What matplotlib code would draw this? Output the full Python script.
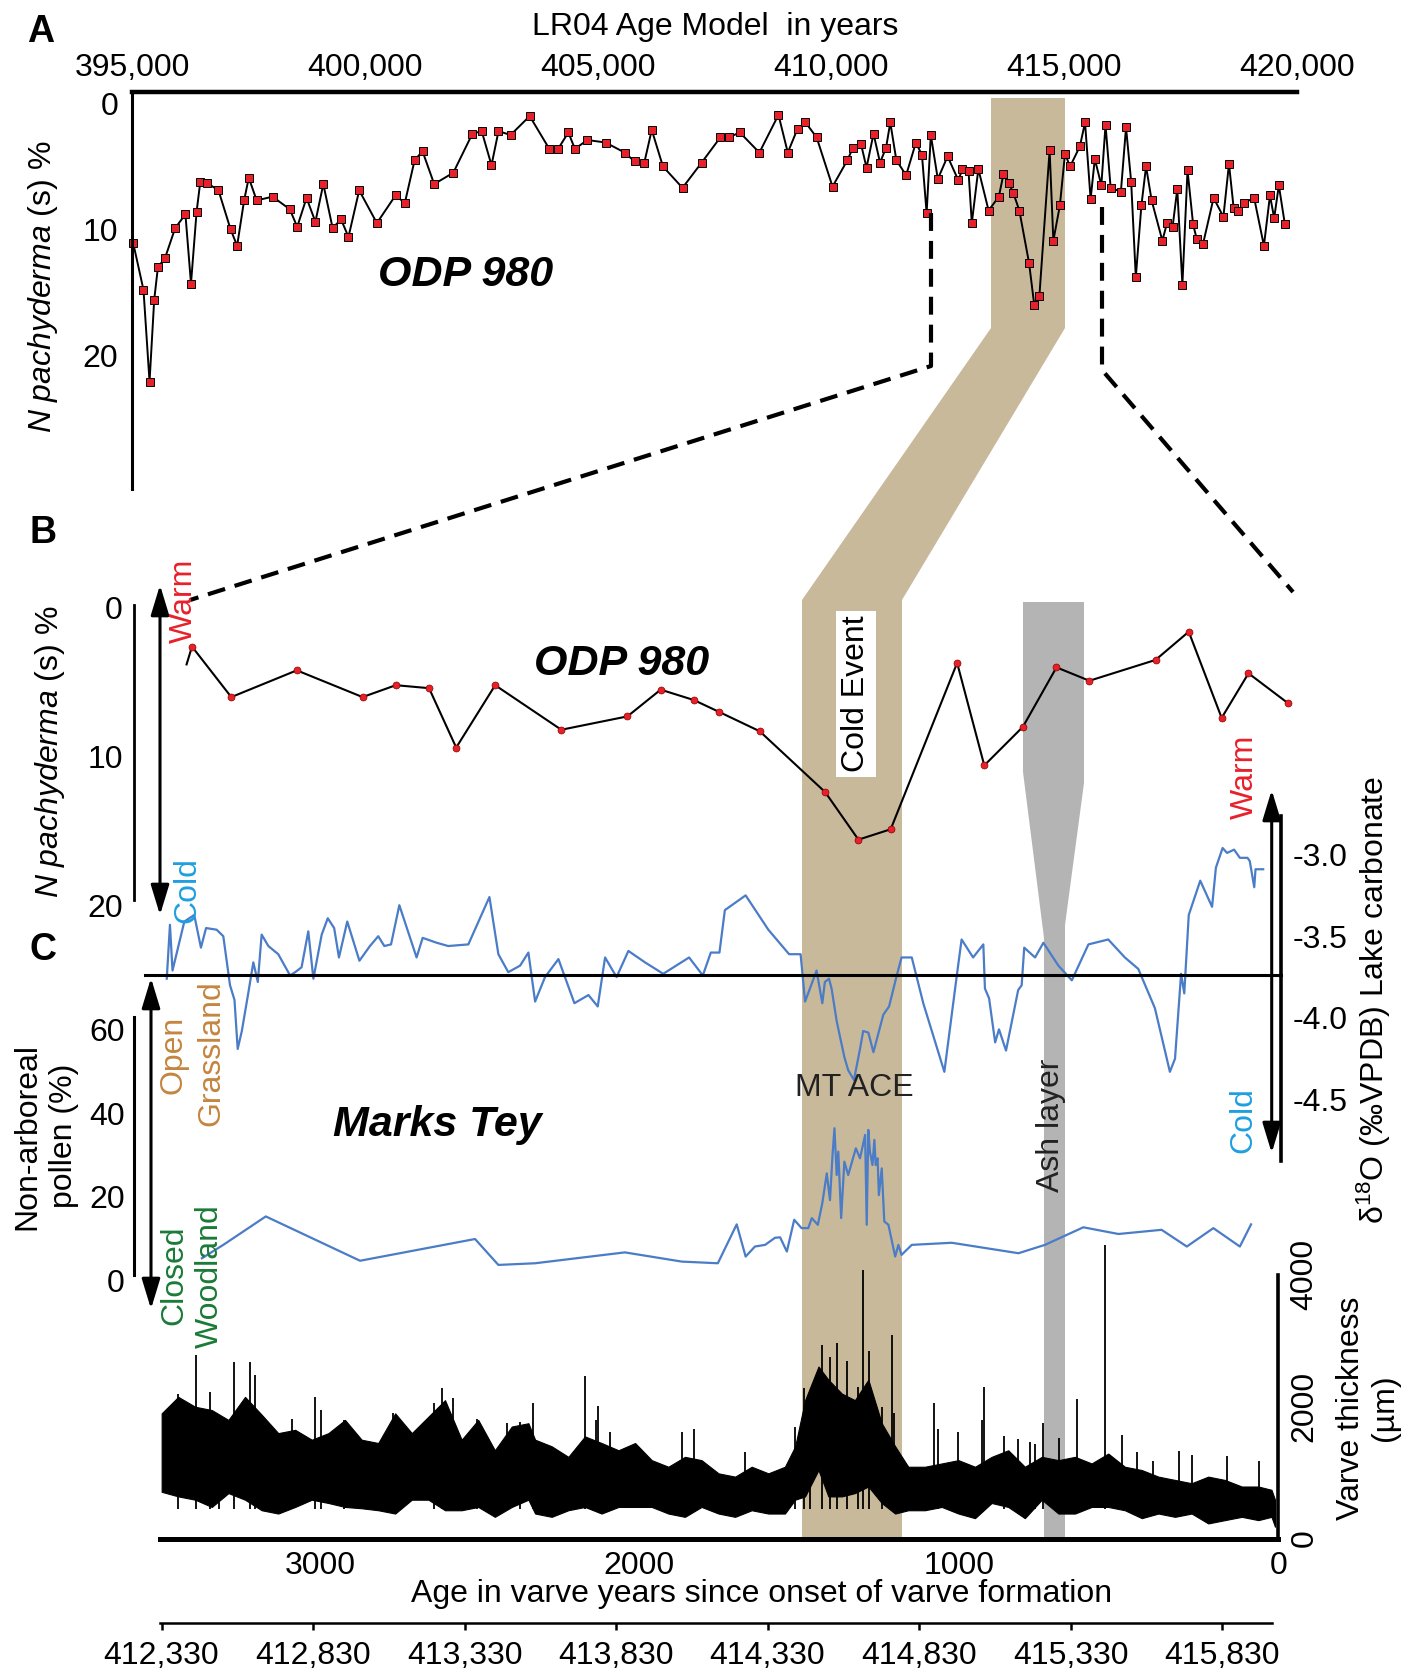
import matplotlib.pyplot as plt
from matplotlib.patches import Polygon, FancyArrowPatch
from matplotlib.lines import Line2D
from matplotlib.ticker import FuncFormatter

plt.rcParams['font.family'] = ['Liberation Sans', 'DejaVu Sans']
plt.rcParams['mathtext.fontset'] = 'custom'
plt.rcParams['mathtext.rm'] = 'Liberation Sans'
plt.rcParams['mathtext.it'] = 'Liberation Sans:italic'
plt.rcParams['mathtext.bf'] = 'Liberation Sans:bold'

# ---- panel A: ODP 980, N. pachyderma (s) % on LR04 ages ----
ageA = [395020, 395240, 395370, 395470, 395550, 395700, 395920, 396140, 396260, 396380,
        396460, 396600, 396850, 397110, 397250, 397400, 397500, 397670, 398010, 398380,
        398540, 398740, 398930, 399100, 399300, 399480, 399640, 399870, 400250, 400650,
        400850, 401060, 401230, 401480, 401890, 402300, 402500, 402710, 402860, 403120,
        403530, 403950, 404140, 404360, 404500, 404770, 405160, 405570, 405780, 405990,
        406150, 406390, 406810, 407220, 407620, 407800, 408040, 408460, 408870, 409070,
        409280, 409450, 409690, 410030, 410350, 410470, 410640, 410760, 410910, 411050,
        411180, 411270, 411400, 411610, 411820, 411950, 412050, 412140, 412290, 412500,
        412730, 412820, 412950, 413020, 413160, 413380, 413600, 413700, 413810, 413910,
        414040, 414250, 414360, 414470, 414690, 414770, 414910, 415020, 415130, 415340,
        415450, 415570, 415660, 415800, 415890, 416000, 416220, 416330, 416440, 416540,
        416660, 416760, 416880, 417110, 417210, 417330, 417430, 417540, 417650, 417770,
        417850, 417980, 418210, 418420, 418540, 418640, 418740, 418860, 419080, 419290,
        419420, 419510, 419610, 419740]
npsA = [11.1, 14.8, 22.1, 15.6, 13.0, 12.3, 9.9, 8.8, 14.3, 8.6,
        6.2, 6.3, 6.9, 10.0, 11.3, 7.7, 5.9, 7.7, 7.4, 8.4,
        9.8, 7.5, 9.4, 6.4, 9.9, 9.2, 10.6, 6.9, 9.5, 7.3,
        7.9, 4.5, 3.8, 6.4, 5.5, 2.4, 2.2, 4.9, 2.2, 2.5,
        1.0, 3.6, 3.6, 2.3, 3.6, 2.9, 3.1, 3.9, 4.6, 4.7,
        2.1, 5.0, 6.7, 4.7, 2.7, 2.7, 2.3, 3.9, 0.9, 3.9,
        2.0, 1.5, 2.7, 6.6, 4.5, 3.5, 3.2, 5.1, 2.4, 4.7,
        3.5, 1.5, 4.5, 5.7, 3.1, 4.1, 8.7, 2.5, 6.0, 4.2,
        6.1, 5.2, 5.4, 9.5, 5.2, 8.5, 7.4, 5.6, 6.3, 7.1,
        8.5, 12.7, 16.0, 15.3, 3.7, 10.9, 8.1, 4.0, 5.0, 3.4,
        1.5, 7.6, 4.4, 6.5, 1.7, 6.7, 7.0, 1.9, 6.2, 13.8,
        8.1, 5.0, 7.7, 10.9, 9.5, 9.8, 6.8, 14.4, 5.3, 9.6,
        10.8, 11.2, 7.5, 9.0, 4.8, 8.3, 8.5, 7.9, 7.5, 11.3,
        7.3, 9.1, 6.5, 9.6]
ticksA = [395000, 400000, 405000, 410000, 415000, 420000]

# ---- panel B: ODP 980 zoom (plotted on varve-year scale) ----
vB = [3417, 3400, 3277, 3072, 2866, 2762, 2658, 2573, 2451, 2244, 2037, 1933, 1829, 1750,
      1623, 1418, 1314, 1213, 1005, 920, 799, 694, 591, 384, 280, 177, 93, -30]
npsB = [3.8, 2.6, 6.0, 4.2, 6.0, 5.2, 5.4, 9.4, 5.2, 8.2, 7.3, 5.5, 6.2, 7.0,
        8.3, 12.4, 15.6, 14.9, 3.7, 10.6, 8.0, 4.0, 4.9, 3.5, 1.6, 7.4, 4.4, 6.4]

# ---- panel C: Marks Tey d18O lake carbonate ----
vD = [3479, 3469, 3461, 3424, 3393, 3372, 3356, 3323, 3302, 3281, 3267, 3257, 3244, 3224,
      3208, 3194, 3182, 3161, 3130, 3093, 3077, 3057, 3036, 3020, 2994, 2975, 2955, 2940,
      2914, 2876, 2843, 2817, 2798, 2777, 2751, 2697, 2678, 2634, 2598, 2535, 2469, 2441,
      2410, 2373, 2347, 2326, 2295, 2253, 2203, 2159, 2130, 2107, 2071, 2034, 1982, 1925,
      1844, 1801, 1776, 1749, 1732, 1667, 1596, 1531, 1495, 1481, 1460, 1445, 1427, 1419,
      1406, 1398, 1382, 1358, 1346, 1328, 1309, 1299, 1283, 1267, 1236, 1218, 1194, 1179,
      1147, 1111, 1045, 1006, 991, 955, 923, 918, 905, 886, 874, 852, 814, 803, 795, 761,
      735, 688, 646, 594, 532, 480, 438, 386, 339, 323, 304, 294, 280, 244, 207, 195, 174,
      160, 138, 120, 96, 89, 75, 71, 47]
d18O = [-3.76, -3.43, -3.71, -3.41, -3.37, -3.57, -3.45, -3.46, -3.50, -3.80, -3.89, -4.19, -4.08, -3.85,
        -3.66, -3.78, -3.49, -3.56, -3.61, -3.74, -3.72, -3.69, -3.47, -3.76, -3.49, -3.39, -3.45, -3.63,
        -3.41, -3.65, -3.56, -3.50, -3.56, -3.55, -3.31, -3.63, -3.51, -3.54, -3.56, -3.55, -3.26, -3.61,
        -3.72, -3.68, -3.60, -3.90, -3.75, -3.64, -3.91, -3.86, -3.93, -3.63, -3.75, -3.59, -3.66, -3.73,
        -3.63, -3.74, -3.60, -3.60, -3.34, -3.25, -3.46, -3.61, -3.61, -3.90, -3.79, -3.71, -3.91, -3.78,
        -3.76, -3.82, -4.02, -4.24, -4.32, -4.38, -4.19, -4.08, -4.09, -4.21, -3.98, -3.93, -3.74, -3.63,
        -3.63, -3.91, -4.33, -3.74, -3.52, -3.63, -3.55, -3.82, -3.88, -4.15, -4.07, -4.20, -3.83, -3.80, -3.57, -3.63,
        -3.54, -3.68, -3.77, -3.55, -3.52, -3.63, -3.70, -3.94, -4.33, -4.25, -3.73, -3.85, -3.37, -3.16, -3.32, -3.08, -2.96,
        -2.99, -2.97, -3.02, -3.02, -3.04, -3.20, -3.09, -3.09]

# ---- non-arboreal pollen ----
vP = [3369, 3302, 3169, 2874, 2514, 2441, 2326, 2045, 1867, 1754, 1695, 1667, 1638, 1606,
      1575, 1559, 1538, 1515, 1492, 1471, 1460, 1441, 1427, 1413, 1403, 1395, 1389, 1382,
      1377, 1368, 1358, 1346, 1322, 1309, 1293, 1288, 1283, 1278, 1270, 1264, 1260, 1254,
      1250, 1241, 1233, 1220, 1199, 1189, 1179, 1147, 1022, 813, 730, 610, 500, 365, 286,
      203, 120, 85]
nap = [5.3, 8.5, 15.3, 4.7, 9.9, 3.7, 4.1, 6.7, 4.5, 4.1, 13.4, 5.7, 8.1, 8.5,
       10.2, 10.3, 6.9, 14.5, 12.5, 12.5, 14.9, 13.3, 18.5, 25.6, 19.2, 30.0, 36.4, 25.2,
       30.8, 14.9, 28.4, 25.2, 31.6, 29.2, 34.8, 13.3, 36.0, 30.8, 27.6, 33.6, 27.6, 29.2,
       20.4, 26.8, 14.1, 13.3, 5.7, 8.5, 6.1, 8.5, 9.0, 6.5, 8.5, 12.7, 11.1, 12.1, 8.1,
       12.5, 8.1, 13.4]

# ---- varve thickness: envelope of the dense band + isolated spikes ----
vV = [3495, 3443, 3390, 3338, 3286, 3234, 3182, 3130, 3077, 3025, 2973, 2921, 2869, 2817,
      2764, 2712, 2660, 2608, 2556, 2504, 2452, 2399, 2347, 2326, 2274, 2222, 2170, 2118,
      2065, 2013, 1961, 1909, 1857, 1805, 1752, 1700, 1648, 1596, 1544, 1512, 1481, 1439,
      1408, 1366, 1325, 1283, 1241, 1199, 1158, 1106, 1053, 1001, 949, 897, 845, 793, 740,
      688, 636, 584, 532, 480, 427, 375, 323, 271, 219, 167, 114, 62, 21, 10]
varveTop = [1900, 2150, 2000, 1950, 1800, 2150, 1880, 1600, 1650, 1500, 1600, 1800, 1500, 1450,
            1900, 1600, 1850, 2100, 1500, 1800, 1340, 1700, 1750, 1500, 1400, 1240, 1550, 1450,
            1340, 1450, 1190, 1090, 1240, 1190, 990, 940, 1090, 990, 1090, 1400, 2100, 2610,
            2410, 2200, 2100, 2410, 1750, 1400, 1090, 1090, 1140, 1190, 1090, 1240, 1340, 1090, 1240,
            1190, 1240, 1140, 1290, 1090, 1040, 940, 890, 840, 940, 890, 790, 790, 740, 590]
varveBot = [710, 640, 590, 480, 690, 590, 430, 380, 480, 590, 540, 480, 460, 430,
            380, 590, 590, 430, 430, 480, 330, 480, 590, 380, 330, 430, 480, 380,
            480, 480, 480, 380, 330, 480, 380, 330, 430, 380, 380, 590, 640, 1040,
            640, 640, 690, 790, 540, 380, 430, 430, 480, 380, 310, 540, 480, 310, 590,
            380, 380, 480, 480, 430, 310, 380, 330, 380, 230, 280, 330, 280, 330, 180]
spikeV = [3443, 3387, 3343, 3317, 3270, 3218, 3203, 3088, 3015, 2997, 2923, 2770, 2644, 2618,
          2582, 2509, 2415, 2373, 2334, 2170, 2135, 2128, 2091, 1867, 1828, 1669, 1512, 1483,
          1465, 1427, 1403, 1382, 1349, 1316, 1301, 1280, 1241, 1210, 1202, 1076, 1066, 1001,
          926, 920, 858, 813, 777, 761, 735, 685, 631, 542, 488, 442, 393, 312, 271, 159, 59]
spikeH = [2200, 2790, 2230, 1880, 2680, 2680, 2480, 1820, 2150, 1950, 1800, 1900, 2050, 2280,
          2130, 1820, 1750, 1770, 2050, 2470, 1800, 2010, 1620, 1610, 1670, 1320, 1700, 2280,
          2190, 2940, 2750, 2970, 2700, 2300, 4080, 2840, 2000, 3090, 1900, 2060, 1670, 1610,
          1800, 2300, 1550, 1510, 1470, 1440, 1760, 1530, 2120, 4450, 1570, 1320, 1180, 1330, 1270, 1260, 1180]

lr04_ticks = [412330, 412830, 413330, 413830, 414330, 414830, 415330, 415830]

RED = '#e8202a'
SKY = '#1e9fe0'
BLUE = '#4a7cc7'
TAN = '#c9b99b'
GREY = '#b4b4b4'
ORANGE = '#c4853f'
GREEN = '#1a7a36'
FS = 23

W, H = 1416, 1673
fig = plt.figure(figsize=(W / 100, H / 100), dpi=100)


def fx(x):
    return x / W


def fy(y):
    return 1 - y / H


def add_ax(x0, y0, x1, y1):
    ax = fig.add_axes([x0 / W, 1 - y1 / H, (x1 - x0) / W, (y1 - y0) / H])
    ax.patch.set_visible(False)
    for s in ax.spines.values():
        s.set_visible(False)
    ax.set_xticks([])
    ax.set_yticks([])
    ax.tick_params(length=0, labelsize=FS)
    return ax


comma = FuncFormatter(lambda x, p: f'{int(round(x)):,}')

# shaded bands behind everything (figure pixel coords)
tan_band = [(991, 98), (1065, 98), (1065, 328), (902, 600), (902, 1538),
            (802, 1538), (802, 600), (991, 328)]
ash_band = [(1023, 602), (1084, 602), (1084, 783), (1065, 925), (1065, 1538),
            (1044, 1538), (1044, 938), (1023, 772)]
for pts, col in [(tan_band, TAN), (ash_band, GREY)]:
    fig.add_artist(Polygon([(fx(x), fy(y)) for x, y in pts], closed=True, fc=col, ec='none',
                           transform=fig.transFigure, zorder=-1))

# ---------------- Panel A ----------------
axA = add_ax(132.3, 92.3, 1297, 488.7)
axA.set_xlim(395000, 420000)
axA.set_ylim(30.6, -0.89)
axA.spines['top'].set_visible(True)
axA.spines['top'].set_linewidth(3.2)
axA.spines['left'].set_visible(True)
axA.spines['left'].set_linewidth(2.2)
axA.xaxis.tick_top()
axA.set_xticks(ticksA)
axA.xaxis.set_major_formatter(comma)
axA.tick_params(axis='x', length=0, pad=7, labelsize=FS)
axA.set_yticks([0, 10, 20])
axA.tick_params(axis='y', length=0, pad=10, labelsize=FS)
axA.plot(ageA, npsA, color='k', lw=1.4, marker='s', ms=6.2, mfc=RED, mec='k', mew=0.7,
         clip_on=False)

# ---------------- Panel B ----------------
axB = add_ax(160.05, 590, 1278.2, 905)
axB.set_xlim(3500, 0)
axB.set_ylim(19.67, -1.21)
axB.spines['left'].set_visible(True)
axB.spines['left'].set_linewidth(2.0)
axB.spines['left'].set_position(('outward', 18.7))
axB.spines['left'].set_bounds(-0.22, 19.67)
axB.set_yticks([0, 10, 20])
axB.tick_params(axis='y', length=0, pad=8, labelsize=FS)
axB.plot(vB, npsB, color='k', lw=1.5, marker='o', ms=5, mfc=RED, mec='#8b0000', mew=0.5,
         markevery=list(range(1, len(vB))), clip_on=False)

# ---------------- Panel C: d18O ----------------
axD = add_ax(160.05, 816, 1278.2, 1161)
axD.set_xlim(3500, 0)
axD.set_ylim(-4.876, -2.764)
axD.spines['right'].set_visible(True)
axD.spines['right'].set_linewidth(2.6)
axD.spines['right'].set_position(('outward', 2))
axD.yaxis.tick_right()
axD.set_yticks([-3.0, -3.5, -4.0, -4.5])
axD.yaxis.set_major_formatter(FuncFormatter(lambda v, p: f'{v:.1f}'))
axD.tick_params(axis='y', length=0, pad=8.5, labelsize=FS)
axD.plot(vD, d18O, color=BLUE, lw=1.6, clip_on=False)

# ---------------- pollen ----------------
axP = add_ax(160.05, 1017, 1278.2, 1280.4)
axP.set_xlim(3500, 0)
axP.set_ylim(0, 63.0)
axP.spines['left'].set_visible(True)
axP.spines['left'].set_linewidth(2.2)
axP.spines['left'].set_position(('outward', 18.4))
axP.spines['left'].set_bounds(1.3, 63)
axP.set_yticks([0, 20, 40, 60])
axP.tick_params(axis='y', length=0, pad=7, labelsize=FS)
axP.plot(vP, nap, color=BLUE, lw=1.6, clip_on=False)

# ---------------- varve thickness ----------------
axV = add_ax(160.05, 1230, 1278.2, 1538.6)
axV.set_xlim(3500, 0)
axV.set_ylim(0, 4681)
axV.spines['bottom'].set_visible(True)
axV.spines['bottom'].set_linewidth(3.6)
axV.spines['right'].set_visible(True)
axV.spines['right'].set_linewidth(2.6)
axV.spines['right'].set_bounds(0, 4000)
axV.set_xticks([3000, 2000, 1000, 0])
axV.tick_params(axis='x', length=0, pad=9, labelsize=FS)
axV.yaxis.tick_right()
axV.set_yticks([0, 2000, 4000])
axV.tick_params(axis='y', length=0, pad=8, labelsize=FS, labelrotation=90)
for lab in axV.get_yticklabels():
    lab.set_va('center')
axV.fill_between(vV, varveBot, varveTop, color='k', lw=0.8)
axV.vlines(spikeV, 450, spikeH, color='k', lw=1.3)

# ---------------- LR04 axis under varve axis ----------------
axL = add_ax(160, 1560, 1272, 1623)
axL.set_xlim(412325, 415995)
axL.spines['bottom'].set_visible(True)
axL.spines['bottom'].set_linewidth(1.8)
axL.set_xticks(lr04_ticks)
axL.xaxis.set_major_formatter(comma)
axL.tick_params(axis='x', direction='out', length=5, width=1.8, pad=8, labelsize=FS)

# ---------------- connectors, separators, arrows ----------------
def fig_line(pts, **kw):
    fig.add_artist(Line2D([fx(x) for x, y in pts], [fy(y) for x, y in pts],
                          transform=fig.transFigure, **kw))


dash = dict(color='k', lw=3.0, dashes=(4.3, 2.4), solid_capstyle='butt', dash_capstyle='butt')
fig_line([(931, 213), (931, 366), (190, 600)], **dash)
fig_line([(1102, 207), (1102, 370), (1293, 592)], **dash)
fig_line([(145, 975), (1281, 975)], color='k', lw=2.2)


def fig_arrow(x, y0, y1):
    fig.add_artist(FancyArrowPatch((fx(x), fy(y0)), (fx(x), fy(y1)), transform=fig.transFigure,
                                   arrowstyle='<|-|>,head_length=2.3,head_width=0.7',
                                   mutation_scale=8, lw=2.2, color='k', shrinkA=0, shrinkB=0))


fig_arrow(160, 585, 915)
fig_arrow(1271.7, 790, 1153)
fig_arrow(151, 978, 1309)

# ---------------- texts ----------------
def ftext(x, y, s, **kw):
    kw.setdefault('fontsize', FS)
    kw.setdefault('ha', 'center')
    kw.setdefault('va', 'center')
    return fig.text(fx(x), fy(y), s, **kw)


ftext(715, 27, 'LR04 Age Model  in years')
for lab, (x, y) in zip('ABC', [(41, 32), (43, 533), (43, 950)]):
    ftext(x, y, lab, fontsize=27, fontweight='bold')

ylab = r'$\mathit{N\ pachyderma}$ (s) %'
ftext(43, 287, ylab, rotation=90)
ftext(50, 752, ylab, rotation=90)
ftext(46, 1136, 'Non-arboreal\npollen (%)', rotation=90, linespacing=1.3)
ftext(1374, 1000, r'δ$^{18}$O (‰VPDB) Lake carbonate', rotation=90)
ftext(1368, 1408, 'Varve thickness\n(µm)', rotation=90, linespacing=1.2)
ftext(761.5, 1594, 'Age in varve years since onset of varve formation')

ftext(466, 275, 'ODP 980', fontsize=31, fontweight='bold', style='italic')
ftext(622, 664, 'ODP 980', fontsize=31, fontweight='bold', style='italic')
ftext(437, 1125, 'Marks Tey', fontsize=31, fontweight='bold', style='italic')

ftext(184, 601, 'Warm', rotation=90, color=RED)
ftext(187, 890, 'Cold', rotation=90, color=SKY)
ftext(1245, 777, 'Warm', rotation=90, color=RED)
ftext(1243, 1120, 'Cold', rotation=90, color=SKY)

ftext(173, 1055, 'Open', rotation=90, color=ORANGE)
ftext(211, 1053, 'Grassland', rotation=90, color=ORANGE)
ftext(174, 1275, 'Closed', rotation=90, color=GREEN)
ftext(210, 1276, 'Woodland', rotation=90, color=GREEN)

ftext(856, 694, 'Cold Event', rotation=90, zorder=5,
      bbox=dict(boxstyle='square,pad=0.15', fc='white', ec='none'))
ftext(854, 1088, 'MT ACE', color='#222222')
ftext(1051, 1125, 'Ash layer', rotation=90, color='#222222')

fig.savefig('out.png', dpi=100)
